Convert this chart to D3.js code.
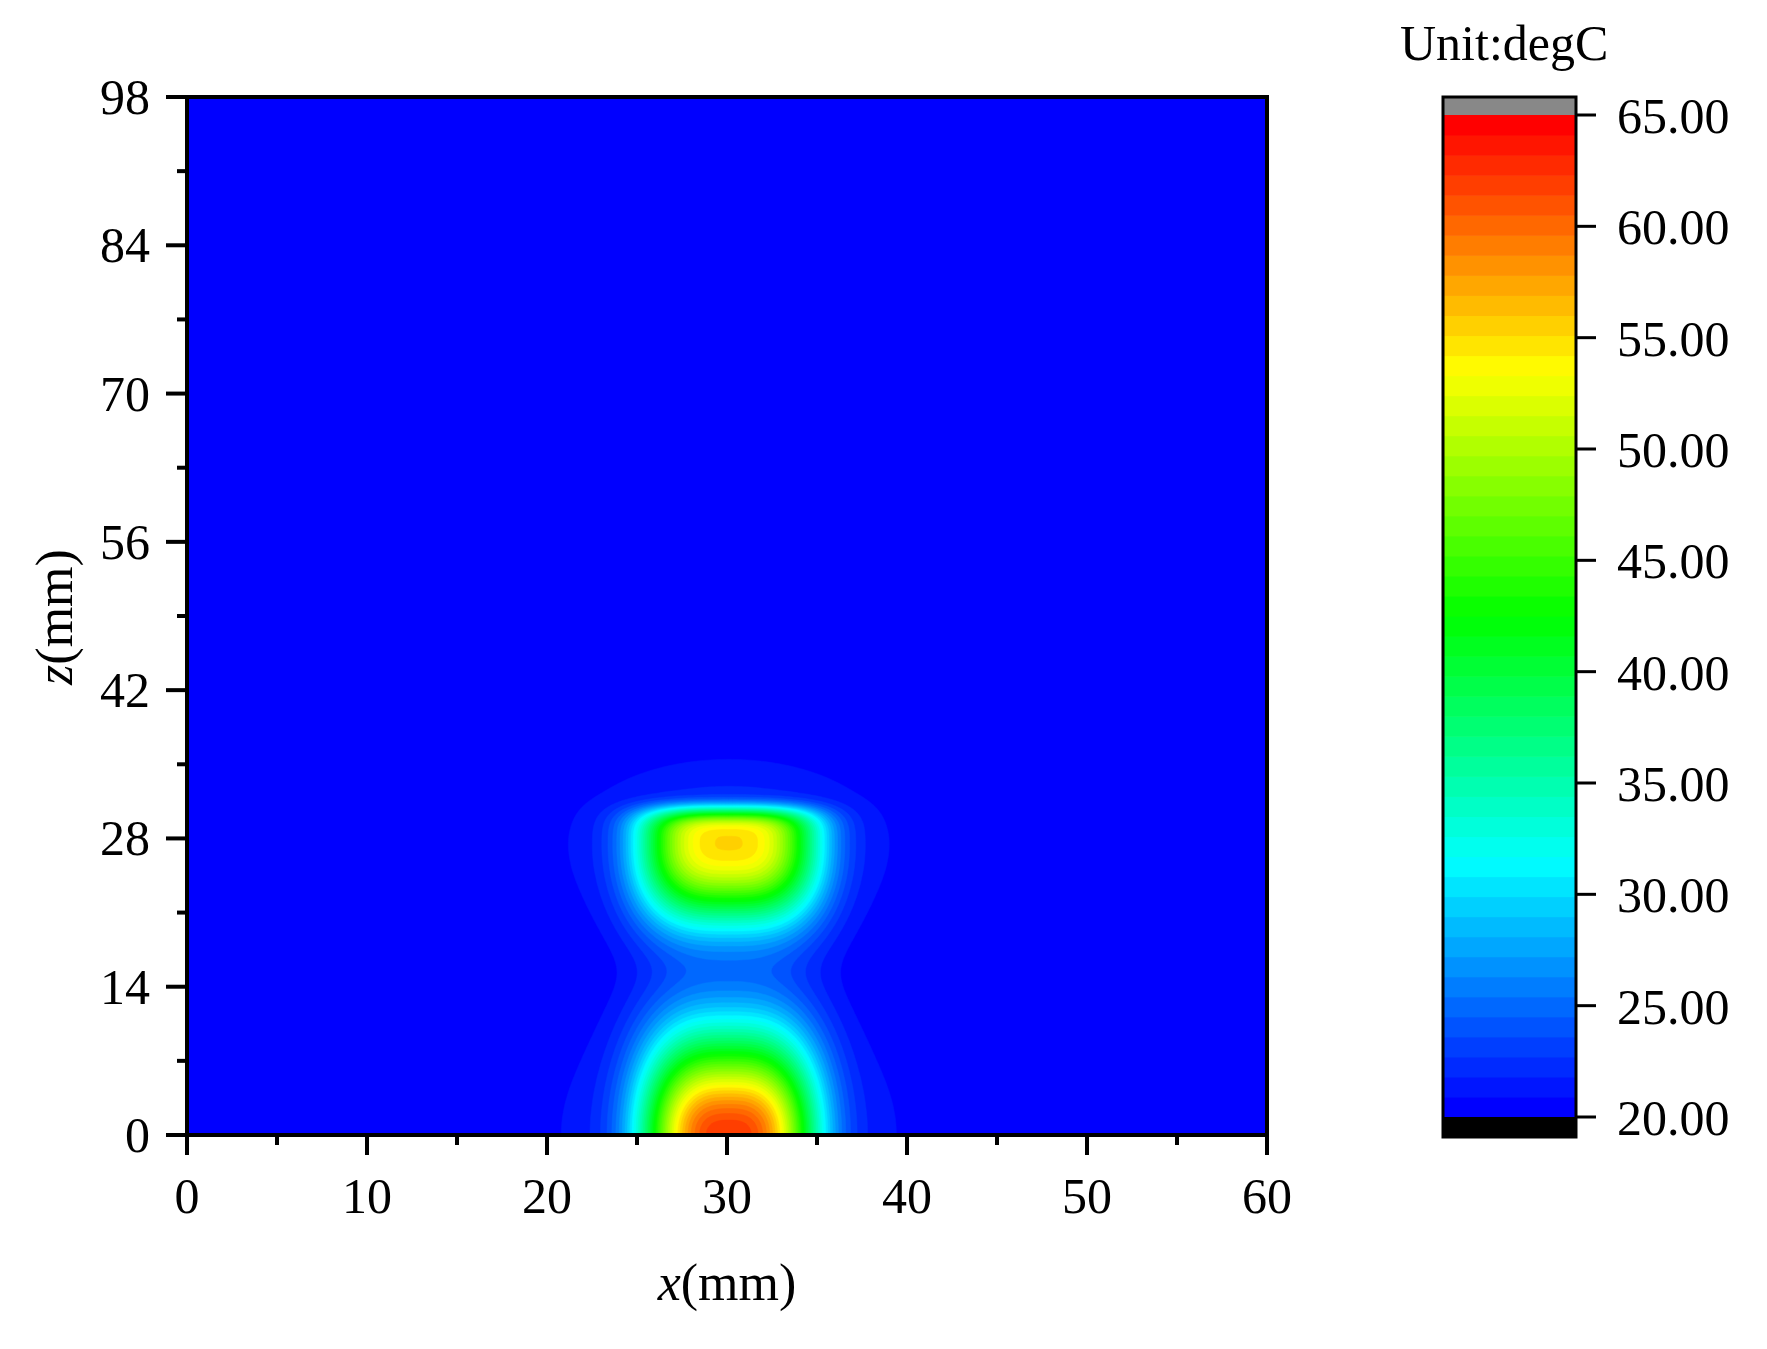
<!DOCTYPE html>
<html><head><meta charset="utf-8">
<script src="https://cdn.jsdelivr.net/npm/d3@7"></script>
<style>body{margin:0;background:#fff}</style></head>
<body><svg id="c" width="1767" height="1349"></svg>
<script>
// ---- data ----
const xTicks = [0,10,20,30,40,50,60];
const zTicks = [0,14,28,42,56,70,84,98];
const cbTicks = [20,25,30,35,40,45,50,55,60,65];
const tMin = 20, tMax = 65, nBands = 50;
// heat sources (core super-Gaussian + broad halo)
const sourceX     = [30, 30, 30, 30];
const sourceZ     = [0, 27.4, 0, 27.4];
const sourceAmp   = [39, 32, 3.2, 3.2];
const sourceAx    = [4.7, 4.9, 5.8, 5.5];
const sourcePx    = [3, 3.2, 2, 2];
const sourceAzUp  = [9.4, 3.3, 7.8, 5.0];
const sourceAzDn  = [9.4, 7.4, 7.8, 5.8];
const sourcePz    = [2, 4, 2, 2];
const sourcePzDn  = [2, 2.3, 2, 2];
const ambient = 20;

const svg = d3.select("#c");
const L=187,R=1267,T=97,B=1135;
const x = d3.scaleLinear().domain([0,60]).range([L,R]);
const z = d3.scaleLinear().domain([0,98]).range([B,T]);
const rainbow = d3.scaleLinear().domain([0,0.25,0.5,0.75,1])
  .range(["#0000ff","#00ffff","#00ff00","#ffff00","#ff0000"]);
const step = (tMax-tMin)/nBands;
const bandColor = k => rainbow(k/(nBands-1));

// grid
const dx=0.2, nx=Math.round(60/dx)+1, nz=Math.round(98/dx)+1;
const vals = new Float64Array(nx*nz);
for(let j=0;j<nz;j++){const zz=j*dx; for(let i=0;i<nx;i++){const xx=i*dx; let v=ambient;
  for(let s=0;s<sourceX.length;s++){
    const halo=s>=2;
    const ex=Math.pow(Math.abs(xx-sourceX[s])/sourceAx[s],sourcePx[s]);
    const dz=zz-sourceZ[s]; const az=dz>0?sourceAzUp[s]:sourceAzDn[s];
    const pz=dz>0?sourcePz[s]:sourcePzDn[s];
    const ez=Math.pow(Math.abs(dz)/az,pz);
    v+=sourceAmp[s]*Math.exp(-(halo?ex/2:ex)-(halo?ez/2:ez));
  }
  vals[j*nx+i]=v;}}
const thresholds=d3.range(1,nBands).map(k=>tMin+k*step);
const contours=d3.contours().size([nx,nz]).thresholds(thresholds)(vals);
const proj=d3.geoTransform({point:function(px,py){this.stream.point(x(px*dx),z(py*dx));}});
const path=d3.geoPath(proj);
const g=svg.append("g");
g.append("clipPath").attr("id","cp").append("rect").attr("x",L).attr("y",T).attr("width",R-L).attr("height",B-T);
const cg=g.append("g").attr("clip-path","url(#cp)");
cg.append("rect").attr("x",L).attr("y",T).attr("width",R-L).attr("height",B-T).attr("fill",bandColor(0));
cg.selectAll("path").data(contours).join("path").attr("d",path)
  .attr("fill",(d,i)=>bandColor(i+1)).attr("stroke",(d,i)=>bandColor(i+1)).attr("stroke-width",0.5);

// axes
const font="'Liberation Serif','Times New Roman',serif";
const ax=svg.append("g").attr("stroke","#000").attr("stroke-width",4);
ax.append("rect").attr("x",L).attr("y",T).attr("width",R-L).attr("height",B-T).attr("fill","none");
d3.range(0,61,5).forEach(v=>{const maj=v%10===0;
  ax.append("line").attr("x1",x(v)).attr("x2",x(v)).attr("y1",B).attr("y2",B+(maj?20:10));});
d3.range(0,99,7).forEach(v=>{const maj=v%14===0;
  ax.append("line").attr("y1",z(v)).attr("y2",z(v)).attr("x1",L).attr("x2",L-(maj?21:10));});
svg.selectAll(".xt").data(xTicks).join("text").attr("x",d=>x(d)).attr("y",1213)
  .attr("text-anchor","middle").attr("font-family",font).attr("font-size",50).text(d=>d);
svg.selectAll(".zt").data(zTicks).join("text").attr("x",150).attr("y",d=>z(d)+17)
  .attr("text-anchor","end").attr("font-family",font).attr("font-size",50).text(d=>d);
const xt=svg.append("text").attr("x",727).attr("y",1300).attr("text-anchor","middle").attr("font-family",font).attr("font-size",52);
xt.append("tspan").attr("font-style","italic").text("x");xt.append("tspan").text("(mm)");
const zt=svg.append("text").attr("transform","translate(72,617) rotate(-90)").attr("text-anchor","middle").attr("font-family",font).attr("font-size",52);
zt.append("tspan").attr("font-style","italic").text("z");zt.append("tspan").text("(mm)");

// colorbar
const cbL=1443,cbR=1576,cbT=97,cbB=1137,cbTop=115,cbBot=1117;
const cy=d3.scaleLinear().domain([tMin,tMax]).range([cbBot,cbTop]);
const cb=svg.append("g");
cb.selectAll("rect.b").data(d3.range(nBands)).join("rect").attr("x",cbL).attr("width",cbR-cbL)
  .attr("y",k=>cy(tMin+(k+1)*step)).attr("height",k=>cy(tMin+k*step)-cy(tMin+(k+1)*step)+0.6).attr("fill",bandColor);
cb.append("rect").attr("x",cbL).attr("width",cbR-cbL).attr("y",cbT).attr("height",cbTop-cbT).attr("fill","#888");
cb.append("rect").attr("x",cbL).attr("width",cbR-cbL).attr("y",cbBot).attr("height",cbB-cbBot).attr("fill","#000");
cb.append("rect").attr("x",cbL).attr("width",cbR-cbL).attr("y",cbT).attr("height",cbB-cbT).attr("fill","none").attr("stroke","#000").attr("stroke-width",3);
cb.selectAll("line").data(cbTicks).join("line").attr("x1",cbR).attr("x2",cbR+20).attr("y1",d=>cy(d)).attr("y2",d=>cy(d)).attr("stroke","#000").attr("stroke-width",3);
cb.selectAll("text").data(cbTicks).join("text").attr("x",1617).attr("y",d=>cy(d)+18)
  .attr("font-family",font).attr("font-size",50).text(d=>d.toFixed(2));
svg.append("text").attr("x",1400).attr("y",60).attr("font-family",font).attr("font-size",50).text("Unit:degC");
</script></body></html>
